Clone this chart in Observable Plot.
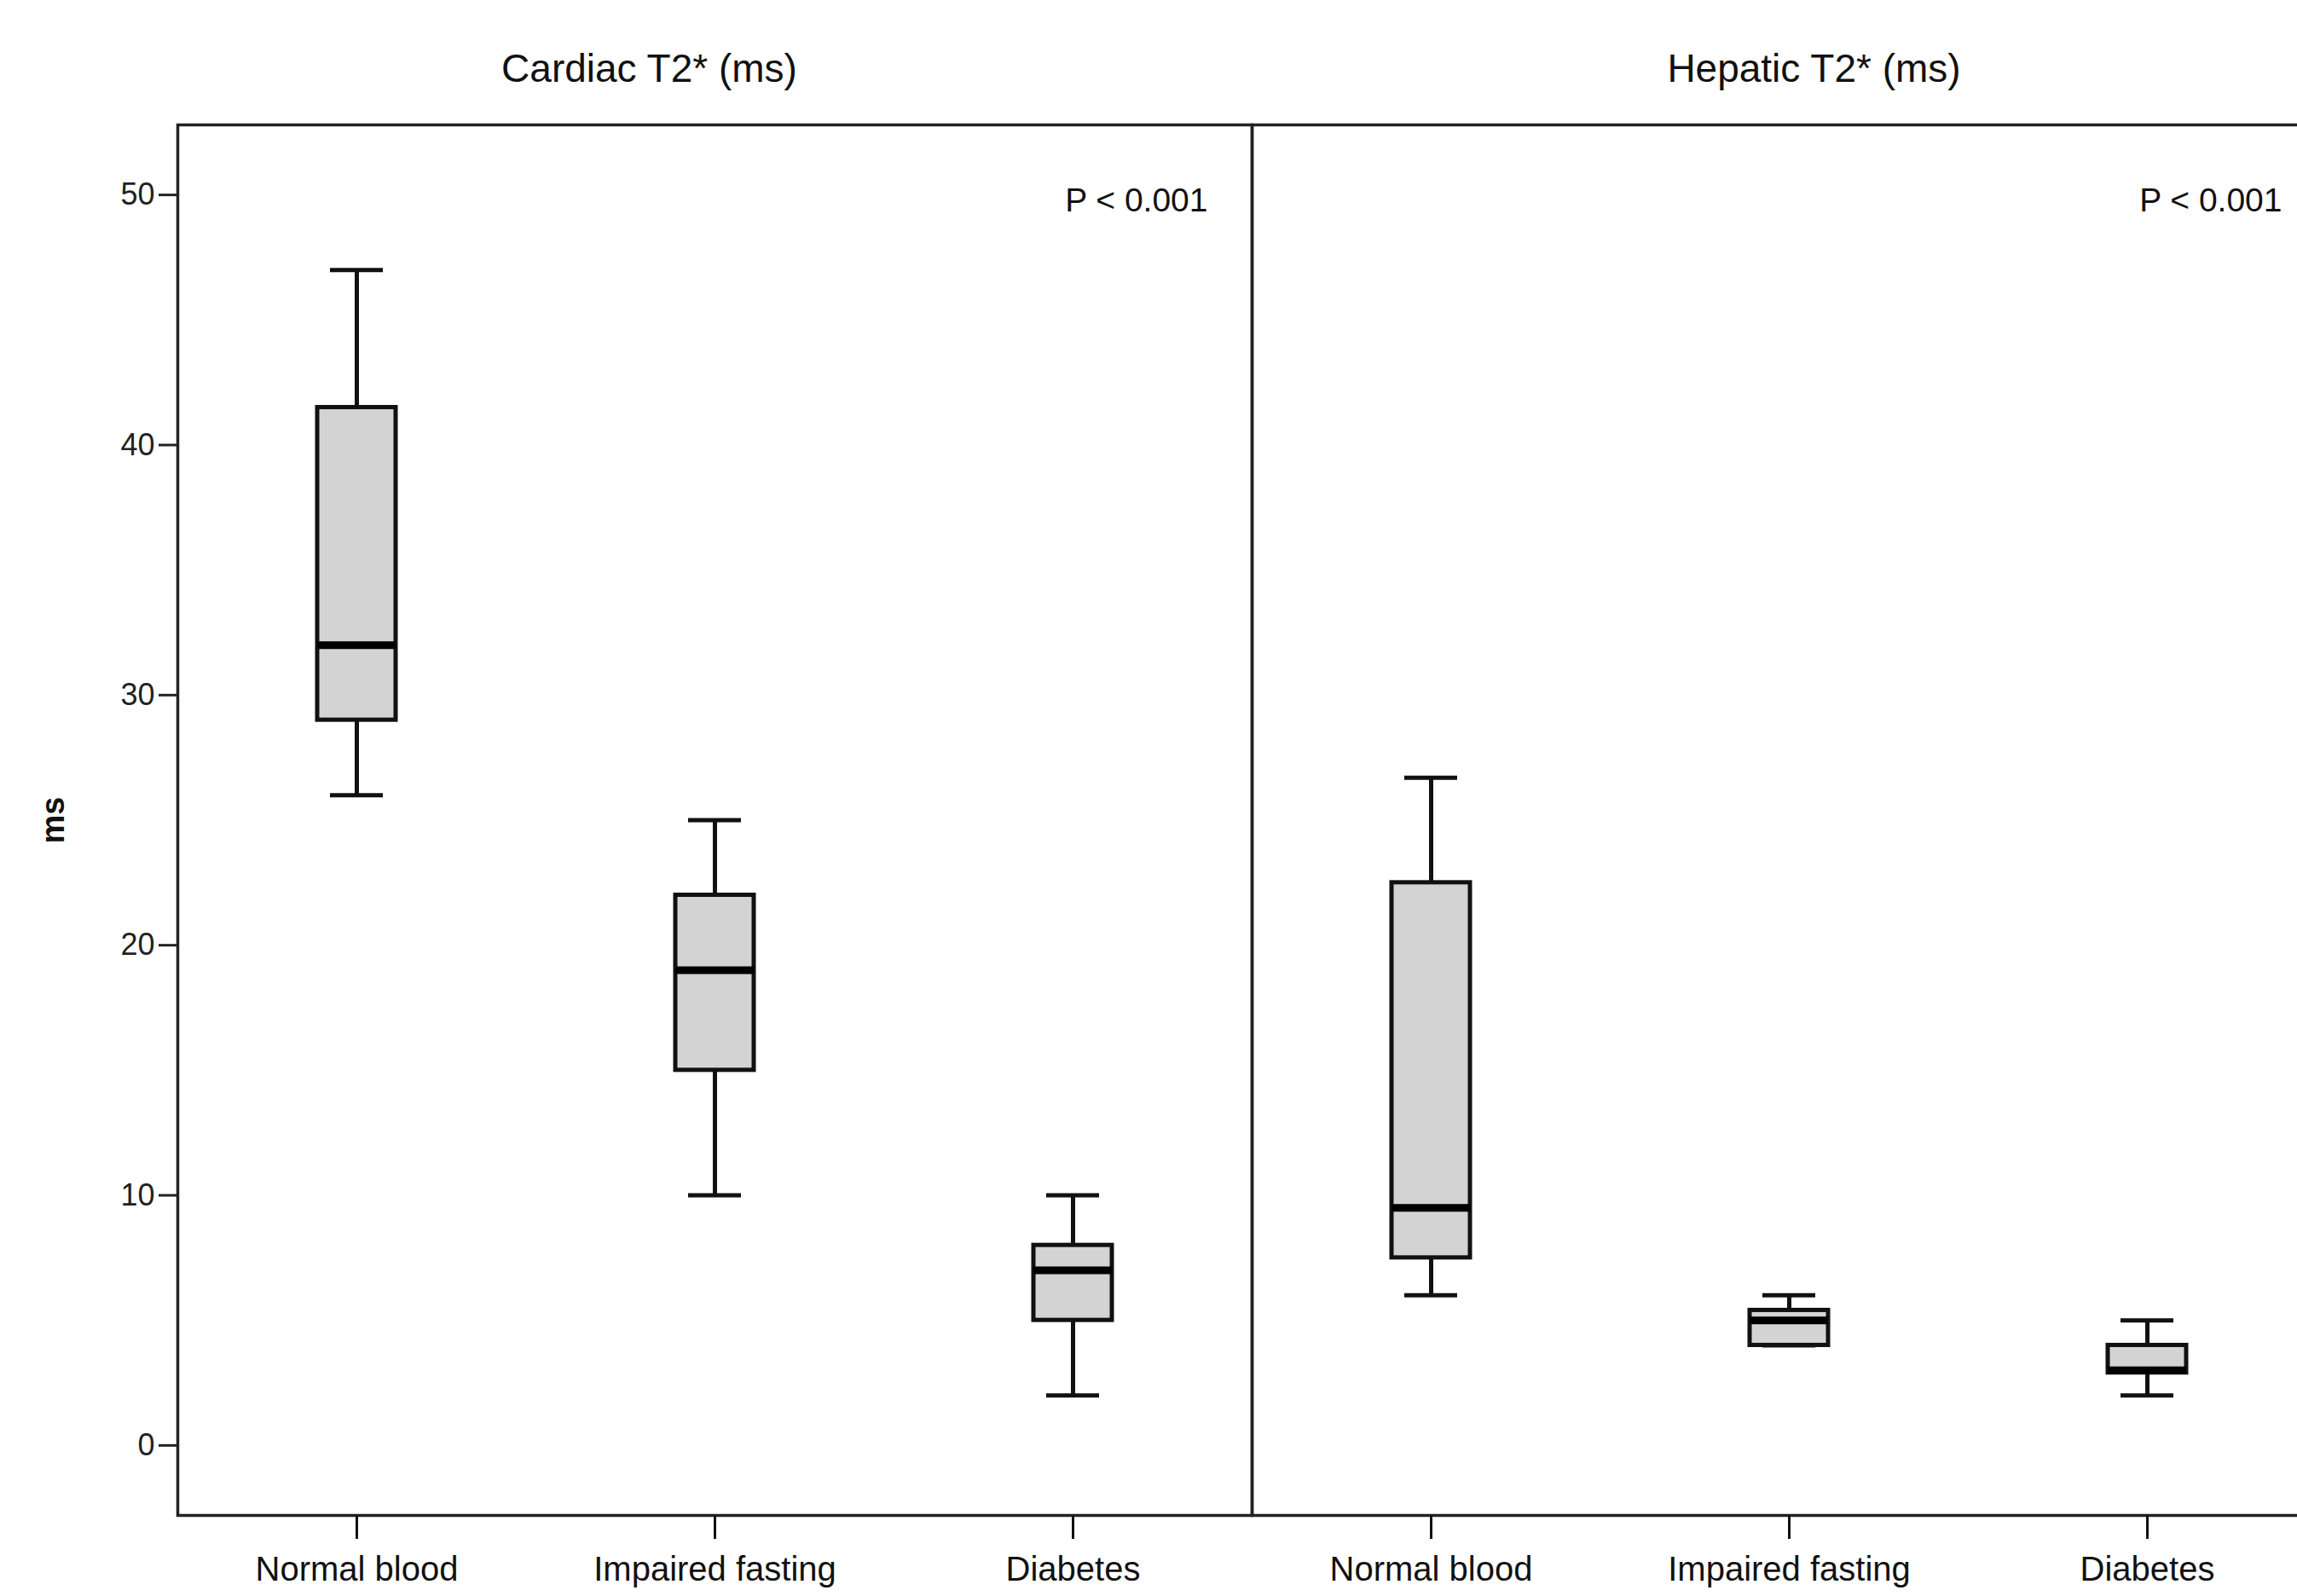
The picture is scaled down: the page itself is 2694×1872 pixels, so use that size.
<!DOCTYPE html>
<html>
<head>
<meta charset="utf-8">
<script src="https://cdn.jsdelivr.net/npm/d3@7"></script>
<script src="https://cdn.jsdelivr.net/npm/@observablehq/plot@0.6"></script>
<style>
  html, body { margin: 0; padding: 0; background: white; overflow: hidden; }
</style>
</head>
<body>
<div id="chart"></div>
<script>
const panels = ["Cardiac T2* (ms)", "Hepatic T2* (ms)"];
const groups = ["Normal blood", "Impaired fasting", "Diabetes"];
const yTicks = [0, 10, 20, 30, 40, 50];
const pLabels = ["P < 0.001", "P < 0.001"];

// Cardiac T2* box statistics (ms)
const cardiacLow    = [26, 10, 2];
const cardiacQ1     = [29, 15, 5];
const cardiacMedian = [32, 19, 7];
const cardiacQ3     = [41.5, 22, 8];
const cardiacHigh   = [47, 25, 10];

// Hepatic T2* box statistics (ms)
const hepaticLow    = [6, 4, 2];
const hepaticQ1     = [7.5, 4, 2.9];
const hepaticMedian = [9.5, 5, 3];
const hepaticQ3     = [22.5, 5.4, 4];
const hepaticHigh   = [26.7, 6, 5];

const stats = [
  [cardiacLow, cardiacQ1, cardiacMedian, cardiacQ3, cardiacHigh],
  [hepaticLow, hepaticQ1, hepaticMedian, hepaticQ3, hepaticHigh]
];
const rows = [];
panels.forEach((panel, p) => {
  groups.forEach((group, i) => {
    const [lo, q1, md, q3, hi] = stats[p].map(a => a[i]);
    rows.push({panel, group, low: lo, q1, median: md, q3, high: hi});
  });
});
const pRows = panels.map((panel, i) => ({panel, text: pLabels[i]}));

const font = "'Liberation Sans', Arial, Helvetica, sans-serif";
const ink = "#111";

const chart = Plot.plot({
  width: 2728,
  height: 1872,
  marginLeft: 208,
  marginRight: 0,
  marginTop: 146,
  marginBottom: 95,
  style: {fontFamily: font, background: "white", maxWidth: "none", overflow: "hidden"},
  fx: {domain: panels, padding: 0, axis: null},
  x: {type: "band", domain: groups, paddingInner: 0.78, paddingOuter: 0.39, axis: null},
  y: {domain: [-2.8, 52.8], axis: null},
  marks: [
    Plot.frame({stroke: "#222", strokeWidth: 3.5}),
    Plot.axisY({
      ticks: yTicks, tickSize: 22, tickPadding: 5, fontSize: 36, color: "#222",
      strokeWidth: 3, tickFormat: d => String(d),
      label: "ms", labelAnchor: "center", labelOffset: 160, labelArrow: "none"
    }),
    Plot.axisX({
      anchor: "bottom", tickSize: 28, tickPadding: 20, fontSize: 40, color: ink,
      strokeWidth: 3, label: null
    }),
    Plot.ruleX(rows, {fx: "panel", x: "group", y1: "low", y2: "q1", stroke: ink, strokeWidth: 5}),
    Plot.ruleX(rows, {fx: "panel", x: "group", y1: "q3", y2: "high", stroke: ink, strokeWidth: 5}),
    Plot.tickY(rows, {fx: "panel", x: "group", y: "high", stroke: ink, strokeWidth: 5, insetLeft: 15, insetRight: 15}),
    Plot.tickY(rows, {fx: "panel", x: "group", y: "low", stroke: ink, strokeWidth: 5, insetLeft: 15, insetRight: 15}),
    Plot.barY(rows, {fx: "panel", x: "group", y1: "q1", y2: "q3", fill: "#d3d3d3", stroke: ink, strokeWidth: 5}),
    Plot.tickY(rows, {fx: "panel", x: "group", y: "median", stroke: "#000", strokeWidth: 9}),
    Plot.text(pRows, {fx: "panel", text: "text", frameAnchor: "top-right", textAnchor: "end",
      lineAnchor: "middle", dx: -52, dy: 89, fontSize: 39, fill: ink}),
    Plot.text([panels[0]], {fx: d => d, text: d => d, frameAnchor: "top", lineAnchor: "middle",
      dx: -77, dy: -65, fontSize: 46, fill: ink}),
    Plot.text([panels[1]], {fx: d => d, text: d => d, frameAnchor: "top", lineAnchor: "middle",
      dx: 29, dy: -65, fontSize: 46, fill: ink})
  ]
});
d3.select(chart).selectAll('g[aria-label="y-axis label"]')
  .attr("font-weight", "bold").attr("font-size", 38).attr("fill", ink);
document.getElementById("chart").appendChild(chart);
</script>
</body>
</html>
